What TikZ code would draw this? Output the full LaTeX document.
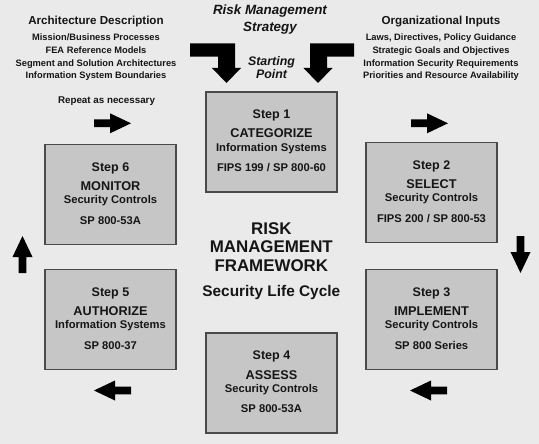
\documentclass[tikz,border=0pt]{standalone}
\usepackage{fontspec}
\setmainfont{Liberation Sans}
\definecolor{bgc}{HTML}{EAEAEA}
\definecolor{boxfill}{HTML}{C6C6C6}
\definecolor{boxline}{HTML}{4A4A4A}
\definecolor{ink}{HTML}{151515}
\newcommand\fsz[1]{\fontsize{#1}{#1}\selectfont\bfseries}
\tikzset{
  stepbox/.style={draw=boxline, line width=1.6pt, fill=boxfill, minimum width=131pt, minimum height=100pt, inner sep=0pt},
  lbl/.style={text=ink, inner sep=0pt, anchor=base},
  stepl/.style={lbl, font=\fsz{12.5}},
  titl/.style={lbl, font=\fsz{12.7}},
  subl/.style={lbl, font=\fsz{11.2}},
  refl/.style={lbl, font=\fsz{11.2}},
  head/.style={lbl, font=\fsz{11.6}},
  item/.style={lbl, font=\fsz{9.3}},
  bigl/.style={lbl, font=\fsz{16.9}},
  fatarrow/.style={fill=black},
}
\newcommand\rmfstep[6]{%
  \node[stepbox] (#1) at (#2) {};
  \node[stepl] (#1a) at ([yshift=-27.5pt]#1.north) {#3};
  \node[titl] (#1b) at ([yshift=-46.8pt]#1.north) {#4};
  \node[subl] (#1c) at ([yshift=-60pt]#1.north) {#5};
  \node[refl] (#1d) at ([yshift=-80.5pt]#1.north) {#6};
}
\newcommand\smallarrow[2]{%
  \begin{scope}[shift={(#1)},rotate=#2]
    \fill[fatarrow] (0,-3.8) -- (16,-3.8) -- (16,-10) -- (37,0) -- (16,10) -- (16,3.8) -- (0,3.8) -- cycle;
  \end{scope}}
\begin{document}
\begin{tikzpicture}[x=1pt,y=-1pt]
\fill[bgc] (0,0) rectangle (539,444);
\useasboundingbox (0,0) rectangle (539,444);

% steps
\rmfstep{s1}{271.5,142}{Step 1}{CATEGORIZE}{Information Systems}{FIPS 199 / SP 800-60}
\rmfstep{s2}{431.5,192.5}{Step 2}{SELECT}{Security Controls}{FIPS 200 / SP 800-53}
\rmfstep{s3}{431.5,319.5}{Step 3}{IMPLEMENT}{Security Controls}{SP 800 Series}
\rmfstep{s4}{271.5,383}{Step 4}{ASSESS}{Security Controls}{SP 800-53A}
\rmfstep{s5}{110.5,319.5}{Step 5}{AUTHORIZE}{Information Systems}{SP 800-37}
\rmfstep{s6}{110.5,194.5}{Step 6}{MONITOR}{Security Controls}{SP 800-53A}

% top left inputs
\node[head] (ad) at (96,24.2) {Architecture Description};
\node[item] (ad1) at (96,40.6) {Mission/Business Processes};
\node[item] (ad2) at (96,53.4) {FEA Reference Models};
\node[item] (ad3) at (96,66.4) {Segment and Solution Architectures};
\node[item] (ad4) at (96,78.6) {Information System Boundaries};

% top right inputs
\node[head] (oi) at (441,24.2) {Organizational Inputs};
\node[item] (oi1) at (441,40.6) {Laws, Directives, Policy Guidance};
\node[item] (oi2) at (441,53.4) {Strategic Goals and Objectives};
\node[item] (oi3) at (441,66.4) {Information Security Requirements};
\node[item] (oi4) at (441,78.6) {Priorities and Resource Availability};

% strategy
\node[lbl, font=\fsz{13.4}\itshape] (rms1) at (270,15) {Risk Management};
\node[lbl, font=\fsz{13.4}\itshape] (rms2) at (270,31.5) {Strategy};
\node[lbl, font=\fsz{12.4}\itshape] (sp1) at (271.5,66) {Starting};
\node[lbl, font=\fsz{12.4}\itshape] (sp2) at (271.5,79) {Point};

% bent arrows
\fill[fatarrow] (190,43.3) -- (235,43.3) -- (235,68) -- (241,68) -- (226.5,83) -- (212,68) -- (218,68) -- (218,56.7) -- (190,56.7) -- cycle;
\fill[fatarrow] (354,43.3) -- (310,43.3) -- (310,68) -- (303.5,68) -- (318,83) -- (332.5,68) -- (327,68) -- (327,56.7) -- (354,56.7) -- cycle;

% repeat
\node[lbl, font=\fsz{9.8}] (rep) at (106.5,103.5) {Repeat as necessary};

% center
\node[bigl] (c1) at (271.3,234) {RISK};
\node[bigl] (c2) at (271.3,252.8) {MANAGEMENT};
\node[bigl] (c3) at (271.3,271) {FRAMEWORK};
\node[lbl, font=\fsz{15.4}] (c4) at (271.3,296) {Security Life Cycle};

% cycle arrows
\smallarrow{94,123.3}{0}
\smallarrow{411,123.3}{0}
\smallarrow{520.5,236}{-90}
\smallarrow{447,390.5}{180}
\smallarrow{131,390.5}{180}
\smallarrow{22.5,273}{90}
\end{tikzpicture}
\end{document}
